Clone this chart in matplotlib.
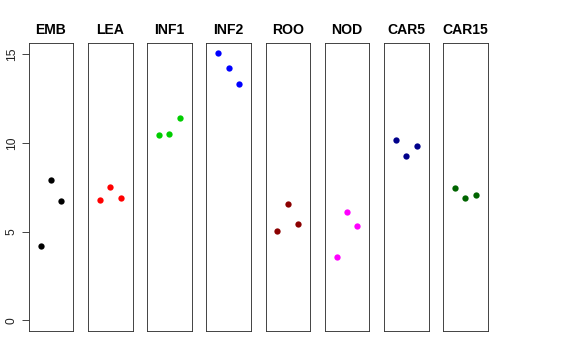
import matplotlib
matplotlib.use("Agg")
import matplotlib.pyplot as plt

plt.rcParams["font.family"] = ["Liberation Sans", "DejaVu Sans"]

# ── Data ───────────────────────────────────────────────────
tissues = ["EMB", "LEA", "INF1", "INF2", "ROO", "NOD", "CAR5", "CAR15"]
colors = ["black", "#FF0000", "#00CD00", "#0000FF",
          "#8B0000", "#FF00FF", "#00008B", "#006400"]
replicate = [1, 2, 3]

emb = [4.20, 7.89, 6.72]
lea = [6.78, 7.53, 6.91]
inf1 = [10.41, 10.52, 11.37]
inf2 = [15.04, 14.21, 13.33]
roo = [5.03, 6.57, 5.40]
nod = [3.58, 6.08, 5.33]
car5 = [10.14, 9.26, 9.82]
car15 = [7.47, 6.87, 7.06]
values = [emb, lea, inf1, inf2, roo, nod, car5, car15]

y_ticks = [0, 5, 10, 15]

# ── Layout (pixels of a 576x360 canvas) ───────────────────
W, H = 576, 360
PANEL_LEFT = 28.7
PANEL_STEP = 59.2
PANEL_W = 44.6
PANEL_TOP = 43.3
PANEL_BOTTOM = 331.0

fig = plt.figure(figsize=(W / 72, H / 72), dpi=72)

for i, (name, col, vals) in enumerate(zip(tissues, colors, values)):
    left = PANEL_LEFT + i * PANEL_STEP
    ax = fig.add_axes([left / W, 1 - PANEL_BOTTOM / H,
                       PANEL_W / W, (PANEL_BOTTOM - PANEL_TOP) / H])
    ax.plot(replicate, vals, "o", color=col, markersize=6.3, markeredgewidth=0)
    ax.set_xlim(-0.16, 4.16)
    ax.set_ylim(-0.6, 15.6)
    ax.set_xticks([])
    for sp in ax.spines.values():
        sp.set_linewidth(0.9)
        sp.set_color("#333333")
    ax.set_title(name, fontsize=14, fontweight="bold", pad=9)
    if i == 0:
        ax.set_yticks(y_ticks)
        ax.set_yticklabels([str(t) for t in y_ticks], rotation=90,
                           va="center", fontsize=12, color="#222222")
        ax.tick_params(axis="y", length=7, width=0.9, pad=4, color="#333333")
    else:
        ax.set_yticks([])

fig.savefig("out.png", dpi=72)
